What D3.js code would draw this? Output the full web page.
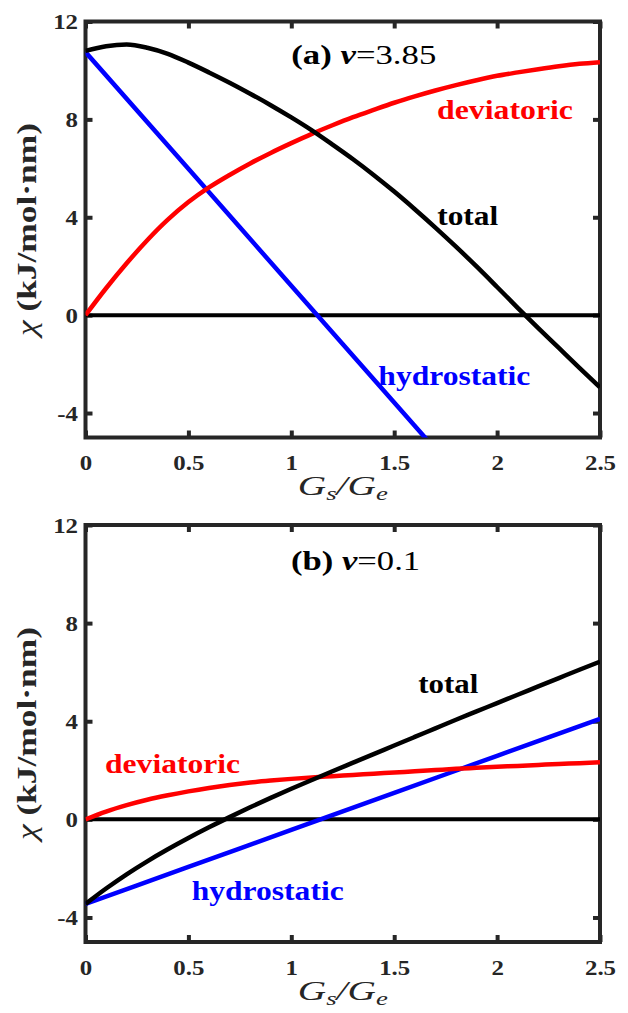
<!DOCTYPE html>
<html>
<head>
<meta charset="utf-8">
<script src="https://cdn.jsdelivr.net/npm/d3@7"></script>
<style>
body{margin:0;background:#fff}
text{font-family:"Liberation Serif","Times New Roman",serif}
</style>
</head>
<body>
<script>
// Gs/Ge sample points shared by the curved series
var gsGe = [0,0.1,0.2,0.3,0.4,0.5,0.6,0.7,0.8,0.9,1.0,1.1,1.2,1.3,1.4,1.5,1.6,1.7,1.8,1.9,2.0,2.1,2.2,2.3,2.4,2.5];
var xTicks = [0,0.5,1,1.5,2,2.5];
var yTicks = [-4,0,4,8,12];

// (a) v = 3.85
var devA = [0,1.1,2.12,3.06,3.9,4.62,5.22,5.73,6.2,6.63,7.03,7.41,7.76,8.09,8.39,8.68,8.94,9.18,9.4,9.6,9.78,9.92,10.05,10.17,10.27,10.34];
var totA = [10.8,10.99,11.06,10.93,10.68,10.32,9.92,9.5,9.05,8.58,8.08,7.55,6.97,6.37,5.73,5.05,4.33,3.58,2.8,1.99,1.15,0.3,-0.53,-1.34,-2.15,-2.95];
var hydXA = [0,0.5,1.0,1.5,1.7];
var hydA = [10.75,5.98,1.2,-3.57,-5.48];

// (b) v = 0.1
var devB = [0,0.32,0.58,0.8,0.98,1.14,1.28,1.4,1.5,1.58,1.65,1.71,1.76,1.81,1.86,1.91,1.96,2.01,2.06,2.1,2.14,2.18,2.22,2.26,2.29,2.33];
var totB = [-3.45,-2.82,-2.24,-1.71,-1.22,-0.76,-0.325,0.09,0.49,0.875,1.245,1.605,1.96,2.31,2.66,3.01,3.36,3.71,4.06,4.4,4.74,5.08,5.42,5.76,6.1,6.43];
var hydXB = [0,0.5,1.0,1.5,2.0,2.5];
var hydB = [-3.45,-1.94,-0.43,1.08,2.59,4.1];

var W = 628, H = 1013;
var AX = "#262626";
var x0 = 85.5, x1 = 600;

var svg = d3.select("body").append("svg").attr("width", W).attr("height", H);
svg.append("rect").attr("width", W).attr("height", H).attr("fill", "#fff");

var panels = [
  {key:"a", v:"=3.85", top:21.5, bottom:437.5, dev:devA, tot:totA, hydX:hydXA, hyd:hydA,
   xLabelY:495, title:[1.0,10.26,145],
   tags:[["deviatoric","#ff0000",1.708,8.02,136],["total","#000",1.709,3.68,61],["hydrostatic","#0000ff",1.423,-2.85,152]]},
  {key:"b", v:"=0.1", top:525, bottom:942, dev:devB, tot:totB, hydX:hydXB, hyd:hydB,
   xLabelY:1000, title:[0.999,10.17,129],
   tags:[["deviatoric","#ff0000",0.095,1.88,135],["total","#000",1.617,5.14,60],["hydrostatic","#0000ff",0.516,-3.29,152]]}
];

function stretch(sel, k){
  sel.each(function(){
    var w = this.getComputedTextLength();
    d3.select(this).attr("textLength", w*k).attr("lengthAdjust", "spacingAndGlyphs");
  });
}

panels.forEach(drawPanel);

function drawPanel(p){
  var x = d3.scaleLinear().domain([0,2.5]).range([x0,x1]);
  var y = d3.scaleLinear().domain([-5,12]).range([p.bottom,p.top]);
  var g = svg.append("g");

  g.append("clipPath").attr("id","clip-"+p.key)
    .append("rect").attr("x",x0).attr("y",p.top).attr("width",x1-x0).attr("height",p.bottom-p.top);

  // axes, ticks pointing inward
  var bottom = g.append("g").attr("transform","translate(0,"+p.bottom+")")
    .call(d3.axisBottom(x).tickValues(xTicks).tickSizeInner(-7).tickSizeOuter(0).tickPadding(17).tickFormat(function(d){return String(d);}));
  var top = g.append("g").attr("transform","translate(0,"+p.top+")")
    .call(d3.axisTop(x).tickValues(xTicks).tickSizeInner(-7).tickSizeOuter(0).tickFormat(""));
  var left = g.append("g").attr("transform","translate("+x0+",0)")
    .call(d3.axisLeft(y).tickValues(yTicks).tickSizeInner(-7).tickSizeOuter(0).tickPadding(7.5).tickFormat(function(d){return String(d);}));
  var right = g.append("g").attr("transform","translate("+x1+",0)")
    .call(d3.axisRight(y).tickValues(yTicks).tickSizeInner(-7).tickSizeOuter(0).tickFormat(""));

  [bottom,top,left,right].forEach(function(a){
    a.select(".domain").remove();
    a.selectAll(".tick line").attr("stroke",AX).attr("stroke-width",4);
    a.selectAll(".tick text").attr("fill",AX).attr("font-size",22).attr("font-weight","bold")
      .attr("font-family","'Liberation Serif',serif");
  });
  stretch(bottom.selectAll(".tick text"), 1.13);
  stretch(left.selectAll(".tick text"), 1.13);

  g.append("rect").attr("x",x0).attr("y",p.top).attr("width",x1-x0).attr("height",p.bottom-p.top)
    .attr("fill","none").attr("stroke",AX).attr("stroke-width",4);

  // curves
  var line = d3.line().x(function(d){return x(d[0]);}).y(function(d){return y(d[1]);}).curve(d3.curveMonotoneX);
  var plot = g.append("g").attr("clip-path","url(#clip-"+p.key+")");
  plot.append("path").attr("d", line([[0,0],[2.5,0]])).attr("fill","none").attr("stroke","#000").attr("stroke-width",4);
  plot.append("path").attr("d", line(d3.zip(p.hydX,p.hyd))).attr("fill","none").attr("stroke","#0000ff").attr("stroke-width",4.5);
  plot.append("path").attr("d", line(d3.zip(gsGe,p.dev))).attr("fill","none").attr("stroke","#ff0000").attr("stroke-width",4.5);
  plot.append("path").attr("d", line(d3.zip(gsGe,p.tot))).attr("fill","none").attr("stroke","#000").attr("stroke-width",4.5);

  // curve labels
  p.tags.forEach(function(t){
    g.append("text").attr("x",x(t[2])).attr("y",y(t[3])).attr("fill",t[1])
      .attr("font-size",28).attr("font-weight","bold").text(t[0])
      .attr("textLength",t[4]).attr("lengthAdjust","spacingAndGlyphs");
  });

  // panel title
  var tt = g.append("text").attr("x",x(p.title[0])).attr("y",y(p.title[1])).attr("font-size",27).attr("fill","#000");
  tt.append("tspan").attr("font-weight","bold").text("("+p.key+") ");
  tt.append("tspan").attr("font-weight","bold").attr("font-style","italic").text("v");
  tt.append("tspan").text(p.v);
  tt.attr("textLength",p.title[2]).attr("lengthAdjust","spacingAndGlyphs");

  // y label
  var yl = g.append("text").attr("transform","translate(35.5,"+((p.top+p.bottom)/2)+") rotate(-90)")
    .attr("text-anchor","middle").attr("font-size",28).attr("fill",AX);
  yl.append("tspan").attr("font-style","italic").text("\u03c7");
  yl.append("tspan").attr("font-weight","bold").text(" (kJ/mol\u00b7nm)");
  yl.attr("textLength",213).attr("lengthAdjust","spacingAndGlyphs");

  // x label
  var xl = g.append("text").attr("x",(x0+x1)/2).attr("y",p.xLabelY).attr("text-anchor","middle")
    .attr("font-size",28).attr("font-style","italic").attr("fill",AX);
  xl.append("tspan").text("G");
  xl.append("tspan").attr("font-size",19).attr("dy",5).text("s");
  xl.append("tspan").attr("dy",-5).text("/G");
  xl.append("tspan").attr("font-size",19).attr("dy",5).text("e");
  xl.attr("textLength",90).attr("lengthAdjust","spacingAndGlyphs");
}
</script>
</body>
</html>
